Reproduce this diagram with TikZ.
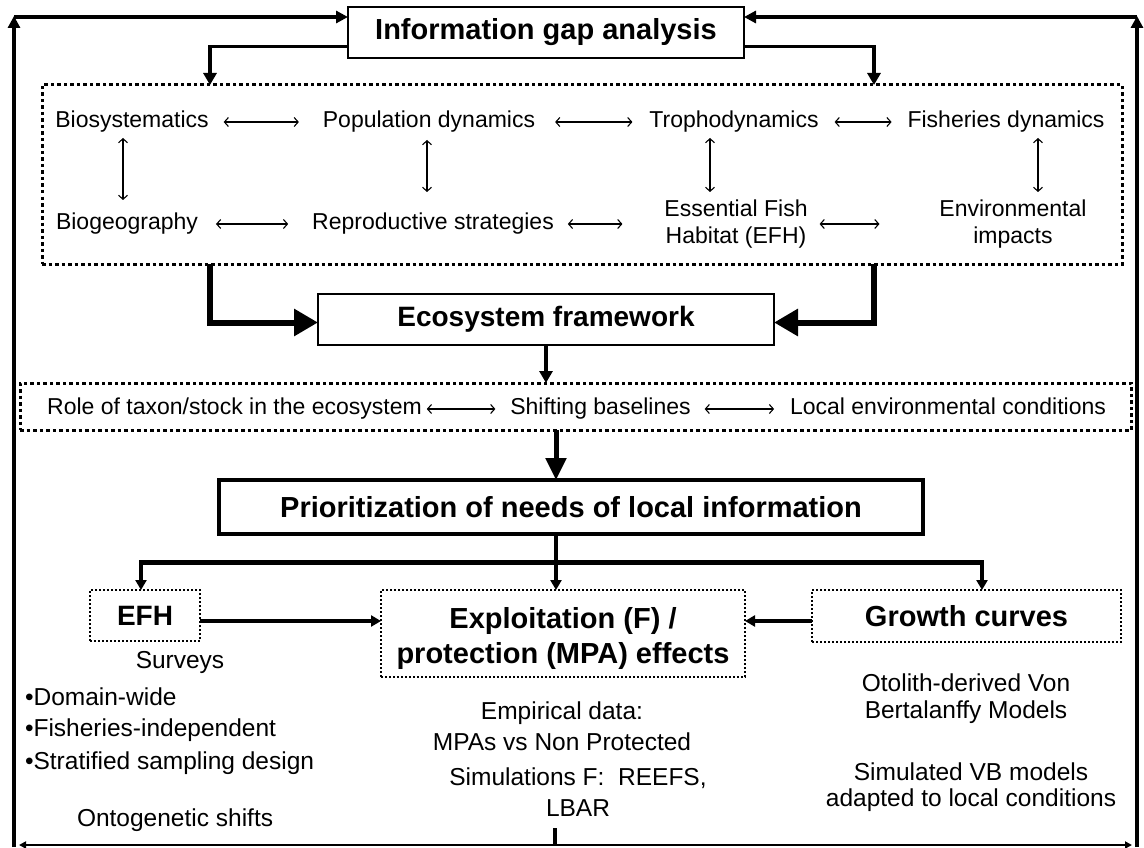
\documentclass[tikz,border=0pt]{standalone}
\usepackage{fontspec}
\setmainfont{Liberation Sans}
\usetikzlibrary{arrows.meta}
\begin{document}
\begin{tikzpicture}[x=1pt,y=-1pt,
  every node/.style={inner sep=0pt, outer sep=0pt},
  txt/.style={font=\fontsize{23}{27}\selectfont, align=center, text height=16pt, text depth=5pt},
  txtw/.style={font=\fontsize{23}{27}\selectfont, align=center},
  btxt/.style={font=\fontsize{24.5}{29}\selectfont, align=center},
  ttl/.style={font=\fontsize{29}{35}\bfseries\selectfont, align=center},
  solidbox/.style={draw, line width=2.5pt},
  dotbox/.style={draw, line width=3pt, dash pattern=on 3.5pt off 3pt},
  thindot/.style={draw, line width=1.6pt, dash pattern=on 1.6pt off 2.4pt},
  dbl/.style={line width=1.1pt, {Straight Barb[length=4pt,width=9pt]}-{Straight Barb[length=4pt,width=9pt]}},
  arr/.style={line width=3.5pt, -{Triangle[length=12pt,width=13pt]}},
  arrs/.style={line width=3.5pt, -{Triangle[length=10pt,width=11pt]}},
  bigarr/.style={line width=6pt, -{Triangle[length=24pt,width=26pt]}},
  midarr/.style={line width=5pt, -{Triangle[length=22pt,width=20pt]}},
  loopv/.style={line width=4pt, -{Triangle[length=12pt,width=12pt]}},
  looph/.style={line width=3.5pt, -{Triangle[length=12pt,width=12pt]}},
  loopb/.style={line width=2pt, -{Triangle[length=7pt,width=7pt]}},
]
\useasboundingbox (0,0) rectangle (1144,848);

% main boxes
\node[solidbox, minimum width=396pt, minimum height=51pt, ttl] (info) at (546,32.5) {Information gap analysis};
\node[dotbox, minimum width=1080pt, minimum height=179pt] (box1) at (582,174.5) {};
\node[solidbox, minimum width=456pt, minimum height=51pt, ttl, font=\fontsize{28}{34}\bfseries\selectfont] (eco) at (546,319.5) {Ecosystem framework};
\node[dotbox, minimum width=1111pt, minimum height=47pt] (box2) at (575.5,406.5) {};
\node[draw, line width=4pt, minimum width=704pt, minimum height=54pt, ttl] (prior) at (571,507) {Prioritization of needs of local information};
\node[thindot, minimum width=110pt, minimum height=51pt, ttl, font=\fontsize{28}{34}\bfseries\selectfont] (efh) at (145,615.5) {EFH};
\node[thindot, minimum width=364pt, minimum height=87pt] (expl) at (563,633.5) {};
\node[ttl] (explt) at ([yshift=-5pt]expl.center) {Exploitation (F) /\\protection (MPA) effects};
\node[thindot, minimum width=309pt, minimum height=52pt, ttl] (grow) at (966.5,616) {Growth curves};

% items in box1
\node[txt] (bio) at (132,122) {Biosystematics};
\node[txt] (pop) at (429,122) {Population dynamics};
\node[txt] (tro) at (734,122) {Trophodynamics};
\node[txt] (fis) at (1006,122) {Fisheries dynamics};
\node[txt] (bgeo) at (127,224) {Biogeography};
\node[txt] (rep) at (433,224) {Reproductive strategies};
\node[txtw] (efht) at (736,224) {Essential Fish\\Habitat (EFH)};
\node[txtw] (env) at (1013,224) {Environmental\\impacts};

\draw[dbl] ([xshift=15pt]bio.east) -- ([xshift=-24pt]pop.west);
\draw[dbl] ([xshift=20pt]pop.east) -- ([xshift=-17pt]tro.west);
\draw[dbl] ([xshift=16pt]tro.east) -- ([xshift=-16pt]fis.west);
\draw[dbl] ([xshift=18pt]bgeo.east) -- ([xshift=-24pt]rep.west);
\draw[dbl] ([xshift=14pt]rep.east) -- ([xshift=-42pt]efht.west);
\draw[dbl] ([xshift=12pt]efht.east) -- ([xshift=-60pt]env.west);
\draw[dbl] ([xshift=-9pt,yshift=-5.5pt]bio.south) -- ([xshift=-9pt,yshift=-67.5pt]bio.south);
\draw[dbl] ([xshift=-2pt,yshift=-7.5pt]pop.south) -- ([xshift=-2pt,yshift=-59.5pt]pop.south);
\draw[dbl] ([xshift=-24pt,yshift=-5.5pt]tro.south) -- ([xshift=-24pt,yshift=-59.5pt]tro.south);
\draw[dbl] ([xshift=32pt,yshift=-5.5pt]fis.south) -- ([xshift=32pt,yshift=-59.5pt]fis.south);

% items in box2
\node[txt] (role) at (234.5,409) {Role of taxon/stock in the ecosystem};
\node[txt] (shift) at (600.5,409) {Shifting baselines};
\node[txt] (local) at (948,409) {Local environmental conditions};
\draw[dbl] ([xshift=5pt]role.east) -- ([xshift=-15pt]shift.west);
\draw[dbl] ([xshift=14pt]shift.east) -- ([xshift=-16pt]local.west);

% connectors between levels
\coordinate (d1) at (210,85);
\coordinate (d4) at (874,85);
\draw[arr] ([yshift=-14pt]info.west) -| (d1);
\draw[arr] ([yshift=-14pt]info.east) -| (d4);
\coordinate (d2) at (210,264);
\coordinate (d3) at (874,264);
\draw[bigarr] (d2) |- ([yshift=-3pt]eco.west);
\draw[bigarr] (d3) |- ([yshift=-3pt]eco.east);
\draw[arr] (eco.south) -- (eco.south |- box2.north);

\coordinate (hub) at (556,562);
\coordinate (hl) at (141,562);
\coordinate (hr) at (982,562);
\draw[midarr] (box2.south -| hub) -- (prior.north -| hub);
\draw[line width=4pt] (prior.south -| hub) -- (hub);
\draw[line width=5pt] ([xshift=-2pt]hl) -- ([xshift=2pt]hr);
\draw[arrs] (hl) -- (efh.north -| hl);
\draw[arrs] (hub) -- (expl.north -| hub);
\draw[arrs] (hr) -- (grow.north -| hr);
\draw[arrs] ([yshift=-5.5pt]efh.east) -- ([yshift=-5.5pt]efh.east -| expl.west);
\draw[arrs] ([yshift=-5pt]grow.west) -- ([yshift=-5pt]grow.west -| expl.east);

% texts under the lower boxes
\node[btxt] (surv) at (180,662) {Surveys};
\node[btxt, anchor=west] (b1) at (25,697) {•Domain-wide};
\node[btxt, anchor=west] (b2) at (25,730) {•Fisheries-independent};
\node[btxt, anchor=west] (b3) at (25,763) {•Stratified sampling design};
\node[btxt, anchor=west] (onto) at (77,820) {Ontogenetic shifts};
\node[btxt] (emp) at (562,713) {Empirical data:};
\node[btxt] (mpa) at (562,742) {MPAs vs Non Protected};
\node[btxt] (sim) at (578,778) {Simulations F:\ \ REEFS,};
\node[btxt] (lbar) at (578,808) {LBAR};
\node[btxt] (oto) at (966,683) {Otolith-derived Von};
\node[btxt] (bert) at (966,712) {Bertalanffy Models};
\node[btxt] (simvb) at (971,772) {Simulated VB models};
\node[btxt] (adap) at (971,800) {adapted to local conditions};

% feedback loop
\coordinate (stub) at (555,828);
\coordinate (bc) at (555,845);
\coordinate (bl) at (14,845);
\coordinate (br) at (1137,845);
\coordinate (tl) at (14,17);
\coordinate (tr) at (1137,17);
\draw[line width=4pt] (stub) -- ([yshift=-1pt]bc);
\draw[loopb] (bc) -- ([xshift=5pt]bl);
\draw[loopb] (bc) -- ([xshift=-5pt]br);
\draw[loopv] ([yshift=-2pt]bl) -- ([yshift=1pt]tl);
\draw[loopv] ([yshift=-2pt]br) -- ([yshift=1pt]tr);
\draw[looph] (tl) -- (tl -| info.west);
\draw[looph] (tr) -- (tr -| info.east);
\end{tikzpicture}
\end{document}
